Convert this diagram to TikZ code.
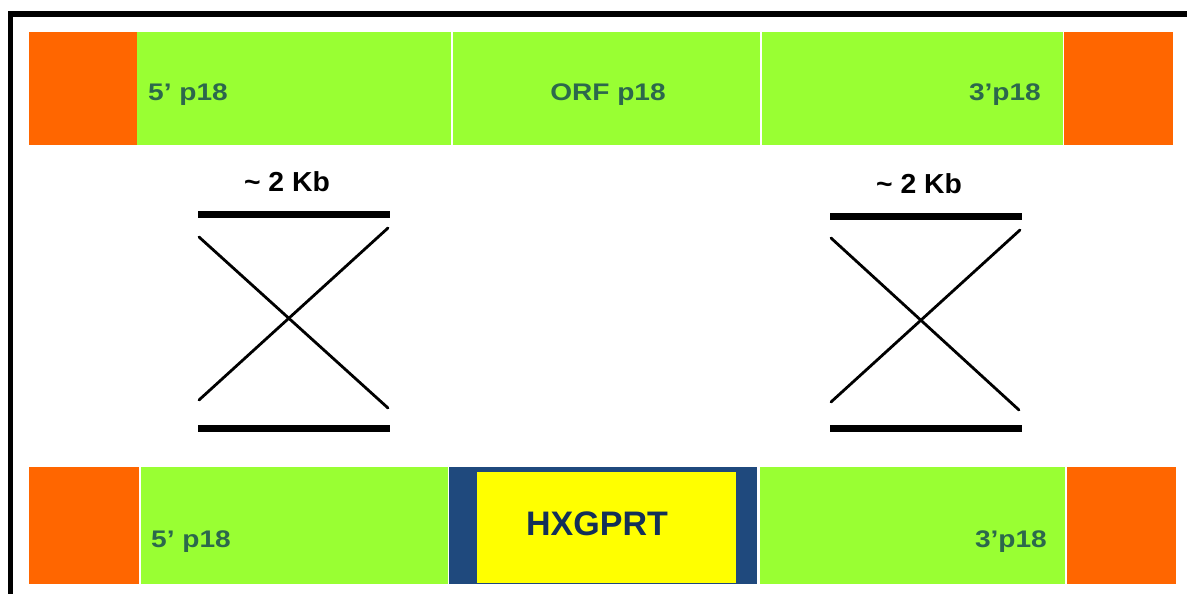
\documentclass[tikz,border=0pt]{standalone}
\usepackage{fontspec}
\setmainfont{Liberation Sans}
\newfontfamily\glab{Liberation Sans}[FakeStretch=1.17]
\newfontfamily\kbfont{Liberation Sans}[FakeStretch=1.03]
\definecolor{orangeseg}{RGB}{255,102,0}
\definecolor{greenseg}{RGB}{153,255,51}
\definecolor{labgreen}{RGB}{44,104,76}
\definecolor{navy}{RGB}{20,48,88}
\definecolor{bluebox}{RGB}{31,73,125}
\definecolor{yellowbox}{RGB}{255,255,0}
\tikzset{
  glabel/.style={font=\glab\bfseries\fontsize{24}{24}\selectfont, text=labgreen, inner sep=0pt},
  kblabel/.style={font=\kbfont\bfseries\fontsize{27.5}{27.5}\selectfont, text=black, inner sep=0pt},
  hxlabel/.style={font=\bfseries\fontsize{34}{34}\selectfont, text=navy, inner sep=0pt},
  bar/.style={line width=7pt},
  cross/.style={line width=2.8pt, line cap=round},
}
\begin{document}
\begin{tikzpicture}[x=1pt,y=-1pt]
\useasboundingbox (0,0) rectangle (1187,594);
\clip (0,0) rectangle (1187,594);
\fill[white] (0,0) rectangle (1187,594);
% frame
\draw[line width=5.5pt] (10.5,610) -- (10.5,14) -- (1200,14);
% top row
\fill[orangeseg] (29,32) rectangle (137,145);
\fill[greenseg] (137,32) rectangle (450.5,145);
\fill[greenseg] (452.5,32) rectangle (760,145);
\fill[greenseg] (762,32) rectangle (1063,145);
\fill[orangeseg] (1064,32) rectangle (1173,145);
% bottom row
\fill[orangeseg] (29,467) rectangle (139,584);
\fill[greenseg] (141,467) rectangle (448,584);
\fill[bluebox] (449,467) rectangle (757,584);
\fill[yellowbox] (477,472) rectangle (736,583);
\fill[greenseg] (760,467) rectangle (1065,584);
\fill[orangeseg] (1067,467) rectangle (1176,584);
% labels top
\node[glabel, anchor=base west] (t5) at (148,101) {5’ p18};
\node[glabel, anchor=base] (torf) at (608,101) {ORF p18};
\node[glabel, anchor=base east] (t3) at (1041,101) {3’p18};
% labels bottom
\node[glabel, anchor=base west] (b5) at (151,547) {5’ p18};
\node[hxlabel, anchor=base] (hx) at (597,535) {HXGPRT};
\node[glabel, anchor=base east] (b3) at (1047,547) {3’p18};
% left crossover
\node[kblabel, anchor=base] (kbl) at (287,191) {\textasciitilde\ 2 Kb};
\coordinate (l1) at (198,214);
\coordinate (l2) at (390,214);
\coordinate (l3) at (198,428.5);
\coordinate (l4) at (390,428.5);
\coordinate (la) at (199,237);
\coordinate (lb) at (388,408);
\coordinate (lc) at (199,400);
\coordinate (ld) at (388,228);
\draw[bar] (l1) -- (l2);
\draw[bar] (l3) -- (l4);
\draw[cross] (la) -- (lb);
\draw[cross] (lc) -- (ld);
% right crossover
\node[kblabel, anchor=base] (kbr) at (919,193) {\textasciitilde\ 2 Kb};
\coordinate (r1) at (830,216);
\coordinate (r2) at (1022,216);
\coordinate (r3) at (830,428.5);
\coordinate (r4) at (1022,428.5);
\coordinate (ra) at (831,238);
\coordinate (rb) at (1019,410);
\coordinate (rc) at (831,402);
\coordinate (rd) at (1020,230);
\draw[bar] (r1) -- (r2);
\draw[bar] (r3) -- (r4);
\draw[cross] (ra) -- (rb);
\draw[cross] (rc) -- (rd);
\end{tikzpicture}
\end{document}
